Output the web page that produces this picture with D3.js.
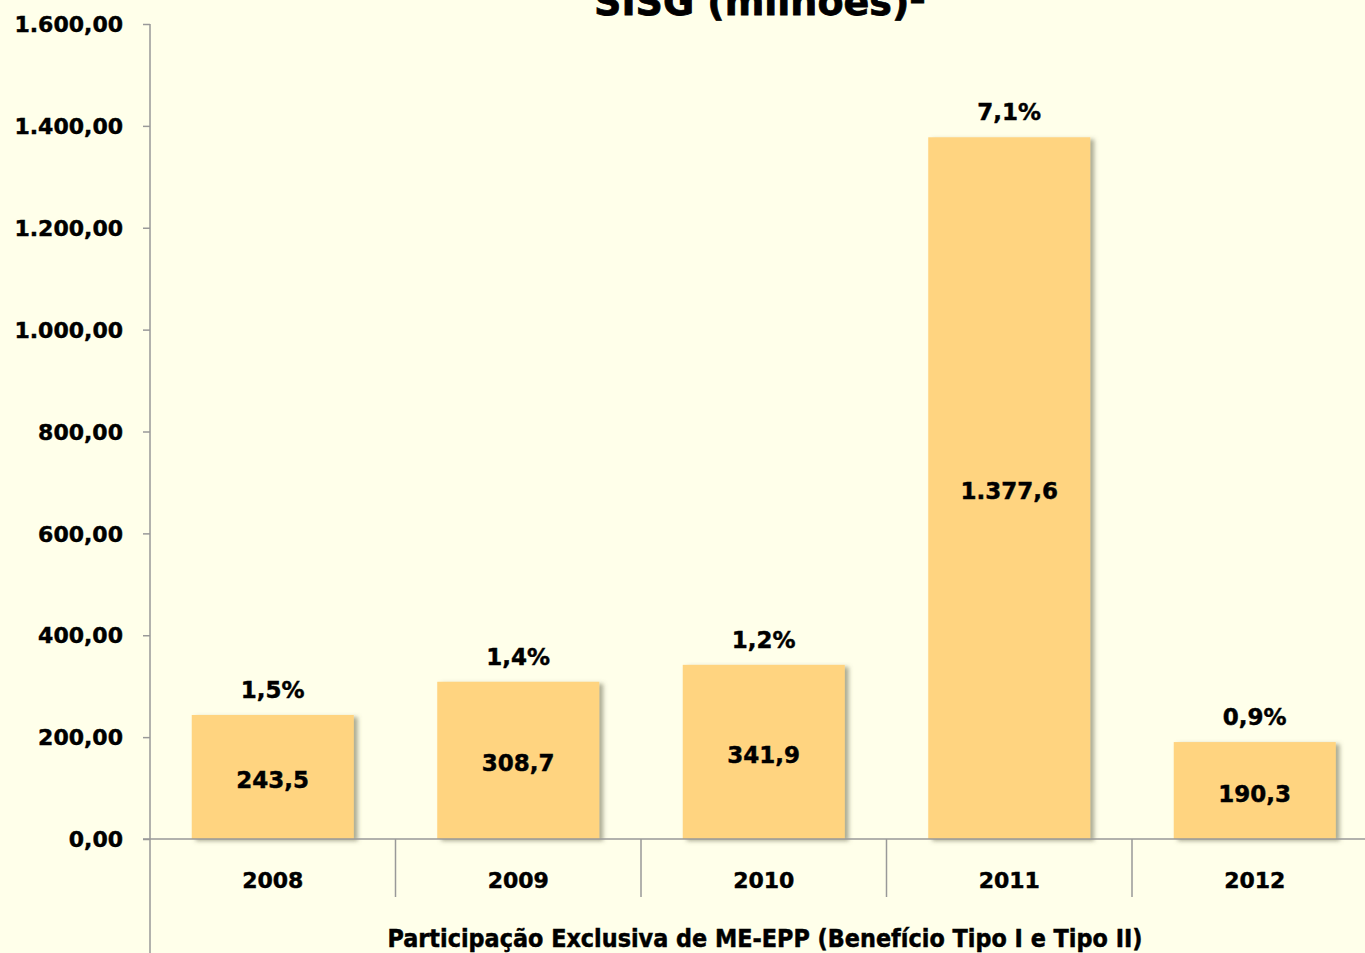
<!DOCTYPE html>
<html><head><meta charset="utf-8">
<script src="https://cdn.jsdelivr.net/npm/d3@7"></script>
<style>
html,body{margin:0;padding:0;background:#FFFFEA;}
svg{display:block;}
text{font-family:"DejaVu Sans",Verdana,sans-serif;font-weight:bold;fill:#000;stroke:#000;stroke-width:0.45px;}
</style></head>
<body>
<script>
const categories = ["2008","2009","2010","2011","2012"];
const values = [243.5, 308.7, 341.9, 1377.6, 190.3];
const valueLabels = ["243,5","308,7","341,9","1.377,6","190,3"];
const percentLabels = ["1,5%","1,4%","1,2%","7,1%","0,9%"];
const yTicks = [0,200,400,600,800,1000,1200,1400,1600];
const titleText = "SISG (milhões)²";
const axisTitle = "Participação Exclusiva de ME-EPP (Benefício Tipo I e Tipo II)";

const W = 1365, H = 953;
const svg = d3.select("body").append("svg").attr("width", W).attr("height", H);
svg.append("rect").attr("width", W).attr("height", H).attr("fill", "#FFFFEA");

const defs = svg.append("defs");
const f = defs.append("filter").attr("id","sh").attr("x","-10%").attr("y","-10%").attr("width","130%").attr("height","130%");
f.append("feDropShadow").attr("dx",4).attr("dy",2).attr("stdDeviation",2.2).attr("flood-color","#6b6b50").attr("flood-opacity",0.55);

const x0 = 150, x1 = 1377.5;
const x = d3.scaleBand().domain(categories).range([x0, x1]).paddingInner(0.34).paddingOuter(0.17);
const xb = d3.scaleBand().domain(categories).range([x0, x1]);
const y = d3.scaleLinear().domain([0,1600]).range([839, 24]);

const fmt = v => d3.format(",.2f")(v).replace(/,/g,"#").replace(/\./g,",").replace(/#/g,".");

// title
svg.append("text").attr("x", 760).attr("y", 15).attr("text-anchor","middle")
  .style("font-size","38px").style("stroke-width","0.8px").text(titleText);

// y axis
const ya = svg.append("g").attr("transform",`translate(${x0},0)`)
  .call(d3.axisLeft(y).tickValues(yTicks).tickFormat(fmt).tickSize(7).tickPadding(20));
ya.select(".domain").remove();
ya.selectAll(".tick line").attr("stroke","#999").attr("stroke-width",1.5);
ya.selectAll(".tick text").style("font-size","22px").style("font-family","'DejaVu Sans',sans-serif").style("font-weight","bold").attr("fill","#000").attr("dy","0.35em");
svg.append("line").attr("x1",x0).attr("x2",x0).attr("y1",y(1600)).attr("y2",H).attr("stroke","#999").attr("stroke-width",1.5);

// bars
svg.selectAll("rect.bar").data(values).enter().append("rect").attr("class","bar")
  .attr("x",(d,i)=>x(categories[i])).attr("width",x.bandwidth())
  .attr("y",d=>y(d)).attr("height",d=>y(0)-y(d))
  .attr("fill","#FFD480").attr("filter","url(#sh)");

// x axis line
svg.append("line").attr("x1",x0-7).attr("x2",W).attr("y1",y(0)).attr("y2",y(0)).attr("stroke","#999").attr("stroke-width",1.5);
// separators
svg.selectAll("line.sep").data(categories.slice(1)).enter().append("line").attr("class","sep")
  .attr("x1",d=>xb(d)).attr("x2",d=>xb(d)).attr("y1",y(0)).attr("y2",897)
  .attr("stroke","#999").attr("stroke-width",1.5);

// category labels
svg.selectAll("text.cat").data(categories).enter().append("text").attr("class","cat")
  .attr("x",d=>xb(d)+xb.bandwidth()/2).attr("y",888).attr("text-anchor","middle")
  .style("font-size","22px").text(d=>d);

// value labels
svg.selectAll("text.val").data(values).enter().append("text").attr("class","val")
  .attr("x",(d,i)=>x(categories[i])+x.bandwidth()/2).attr("y",d=>(y(d)+y(0))/2+11)
  .attr("text-anchor","middle").style("font-size","23px").text((d,i)=>valueLabels[i]);

// percent labels
svg.selectAll("text.pct").data(values).enter().append("text").attr("class","pct")
  .attr("x",(d,i)=>x(categories[i])+x.bandwidth()/2).attr("y",d=>y(d)-17)
  .attr("text-anchor","middle").style("font-size","23px").text((d,i)=>percentLabels[i]);

// axis title
svg.append("text").attr("x",765).attr("y",947).attr("text-anchor","middle")
  .style("font-family","'DejaVu Sans Condensed','DejaVu Sans',sans-serif").style("font-size","24px")
  .attr("textLength",755).attr("lengthAdjust","spacingAndGlyphs").text(axisTitle);
</script>
</body></html>
